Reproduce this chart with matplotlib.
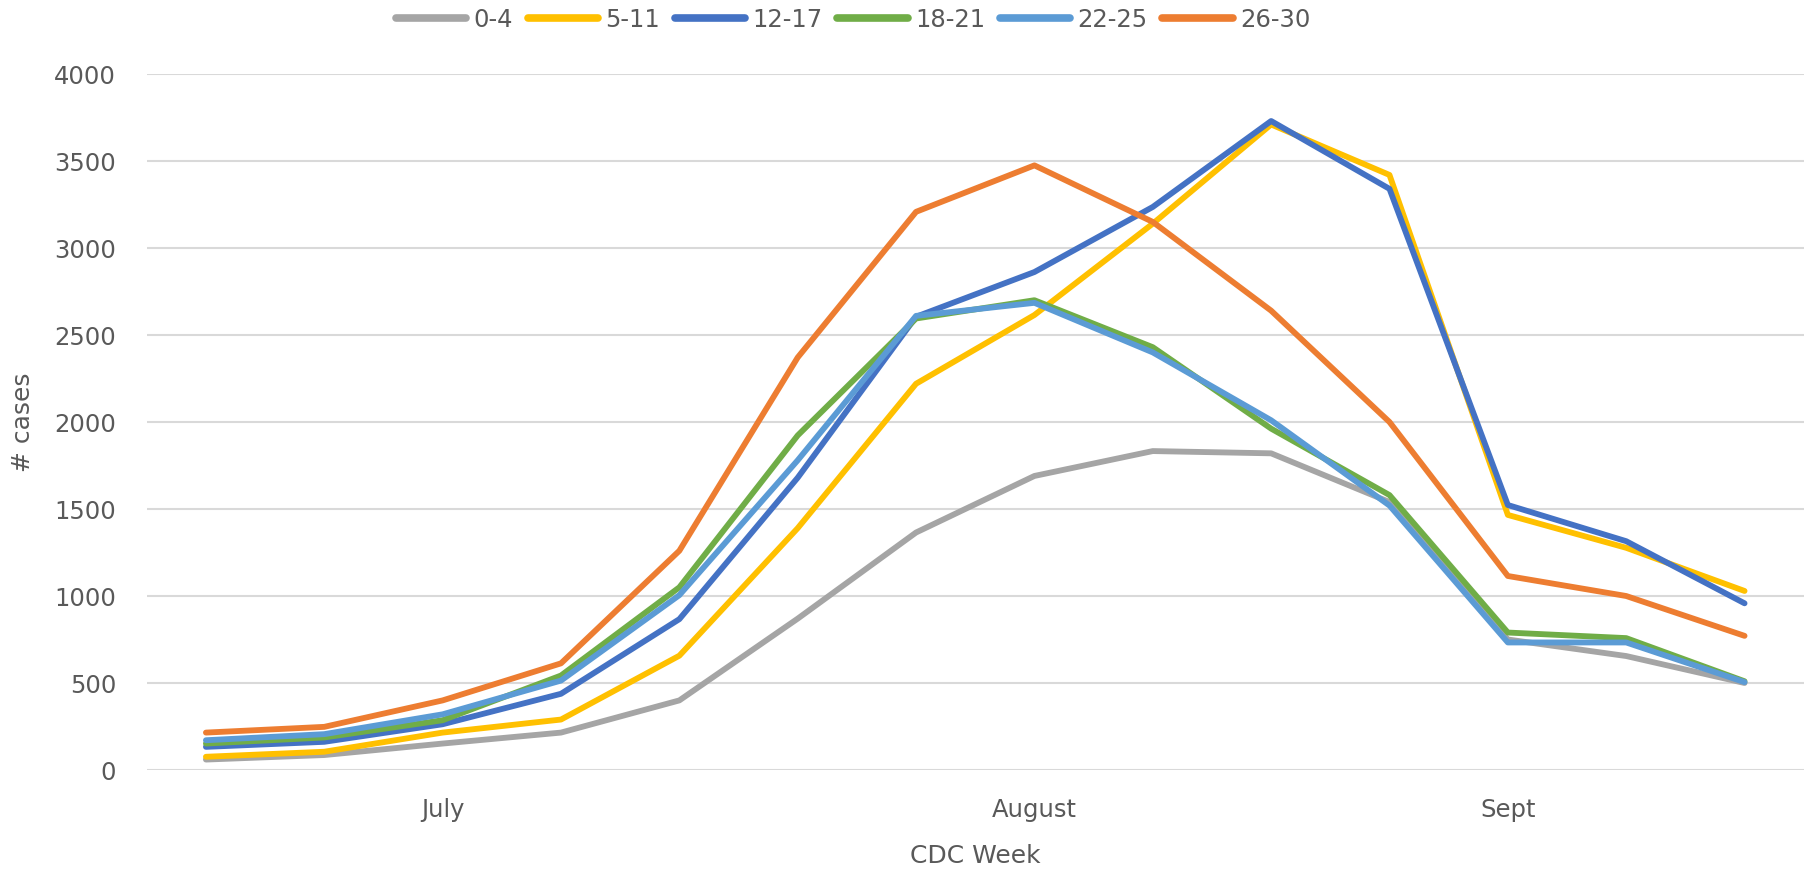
import matplotlib
matplotlib.use("Agg")
import matplotlib.pyplot as plt

weeks = list(range(14))
month_tick_pos = [2, 7, 11]
month_tick_labels = ["July", "August", "Sept"]

series_names = ["0-4", "5-11", "12-17", "18-21", "22-25", "26-30"]
age_0_4 = [60, 86, 152, 215, 400, 870, 1365, 1690, 1833, 1820, 1540, 750, 655, 500]
age_5_11 = [76, 105, 215, 290, 657, 1390, 2220, 2615, 3140, 3710, 3420, 1466, 1277, 1029]
age_12_17 = [133, 162, 263, 438, 867, 1680, 2605, 2862, 3236, 3730, 3340, 1523, 1315, 958]
age_18_21 = [152, 187, 286, 543, 1050, 1923, 2595, 2700, 2430, 1962, 1580, 790, 758, 510]
age_22_25 = [171, 206, 320, 514, 1005, 1780, 2610, 2685, 2400, 2010, 1520, 733, 733, 505]
age_26_30 = [215, 248, 400, 613, 1260, 2371, 3208, 3475, 3150, 2640, 2000, 1115, 1000, 771]
all_series = [age_0_4, age_5_11, age_12_17, age_18_21, age_22_25, age_26_30]
colors = ["#A5A5A5", "#FFC000", "#4472C4", "#70AD47", "#5B9BD5", "#ED7D31"]

yticks = [0, 500, 1000, 1500, 2000, 2500, 3000, 3500, 4000]

txt = "#595959"
plt.rcParams['font.family'] = ['DejaVu Sans']

fig = plt.figure(figsize=(18.05, 8.75), dpi=100)
ax = fig.add_axes([0.0813, 0.12, 0.918, 0.7954])

for name, vals, c in zip(series_names, all_series, colors):
    ax.plot(weeks, vals, color=c, lw=4.2, label=name,
            solid_capstyle='round', solid_joinstyle='round')

ax.set_xlim(-0.5, 13.5)
ax.set_ylim(0, 4000)
ax.set_yticks(yticks)
ax.set_yticklabels([str(v) for v in yticks])
ax.set_xticks(month_tick_pos)
ax.set_xticklabels(month_tick_labels)
ax.grid(axis='y', color='#D9D9D9', lw=1.5)
ax.set_axisbelow(True)
for s in ax.spines.values():
    s.set_visible(False)
ax.tick_params(axis='both', length=0, labelsize=17.5, colors=txt)
ax.tick_params(axis='x', pad=20)
ax.tick_params(axis='y', pad=22)

ax.set_xlabel("CDC Week", fontsize=18, color=txt, labelpad=16)
ax.set_ylabel("# cases", fontsize=18, color=txt, labelpad=14)

leg = fig.legend(loc='center', bbox_to_anchor=(853/1805, 1 - 20/875), ncol=6,
                 frameon=False, prop={'family': 'DejaVu Sans', 'size': 17.5},
                 handlelength=2.9, handletextpad=0.3, columnspacing=0.6)
for t in leg.get_texts():
    t.set_color(txt)
for l in leg.get_lines():
    l.set_linewidth(5.5)

fig.savefig("out.png", dpi=100)
